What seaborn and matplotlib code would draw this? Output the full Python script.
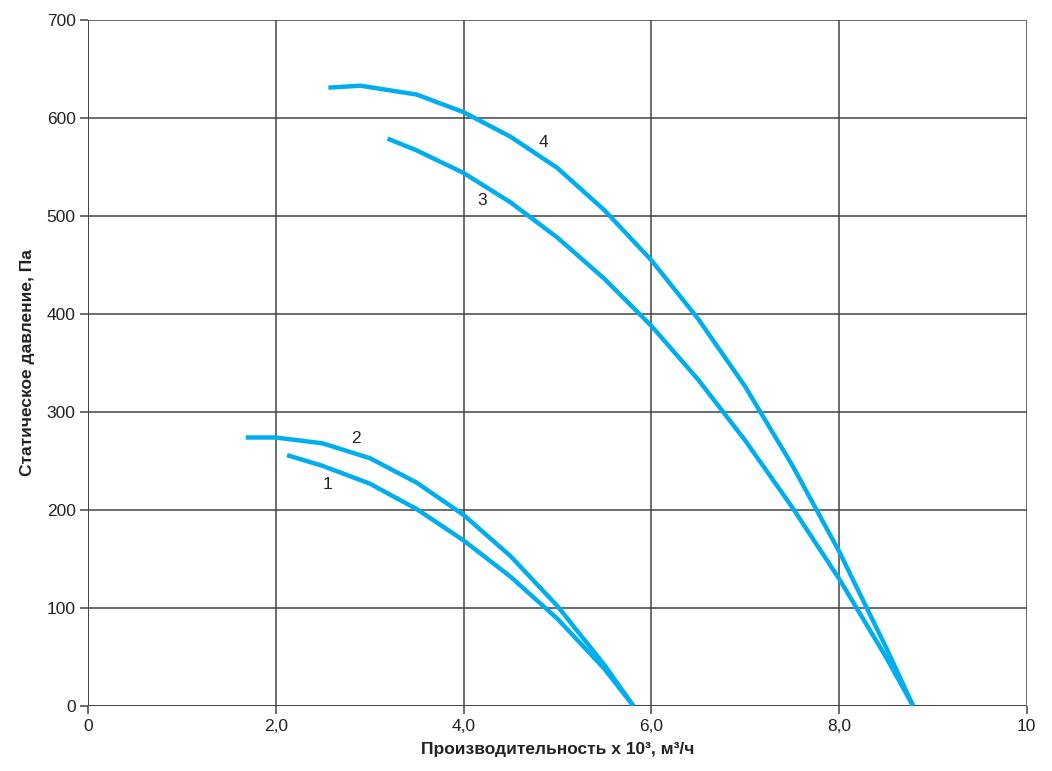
import pandas as pd
import seaborn as sns
import matplotlib.pyplot as plt

# fan curves (x in 10^3 m3/h, y in Pa)
x1 = [2.12, 2.5, 3.0, 3.5, 4.0, 4.5, 5.0, 5.5, 5.81]
y1 = [256, 245, 227, 201, 169, 132, 89, 38, 0]

x2 = [1.68, 2.0, 2.5, 3.0, 3.5, 4.0, 4.5, 5.0, 5.5, 5.81]
y2 = [274, 274, 268, 253, 228, 195, 153, 102, 42, 0]

x3 = [3.19, 3.5, 4.0, 4.5, 5.0, 5.5, 6.0, 6.5, 7.0, 7.5, 8.0, 8.5, 8.79]
y3 = [579, 567, 544, 514, 478, 436, 388, 333, 271, 203, 130, 50, 0]

x4 = [2.56, 2.9, 3.5, 4.0, 4.5, 5.0, 5.5, 6.0, 6.5, 7.0, 7.5, 8.0, 8.5, 8.79]
y4 = [631, 633, 624, 606, 581, 549, 506, 455, 395, 326, 246, 158, 60, 0]

curve_names = ['1', '2', '3', '4']
label_pos = [(2.55, 226), (2.85, 273), (4.2, 516), (4.85, 575)]

x_ticks = [0, 2, 4, 6, 8, 10]
x_tick_labels = ['0', '2,0', '4,0', '6,0', '8,0', '10']
y_ticks = [0, 100, 200, 300, 400, 500, 600, 700]

frames = []
for name, xs, ys in zip(curve_names, [x1, x2, x3, x4], [y1, y2, y3, y4]):
    frames.append(pd.DataFrame({'q': xs, 'p': ys, 'curve': name}))
df = pd.concat(frames, ignore_index=True)

sns.set_style('white')
plt.rcParams['font.family'] = ['Liberation Sans', 'DejaVu Sans']

fig = plt.figure(figsize=(10.52, 7.71), dpi=100)
ax = fig.add_axes([0.0837, 0.0843, 0.8923, 0.8897])

blue = '#00AEEF'
sns.lineplot(data=df, x='q', y='p', hue='curve', palette=[blue] * 4,
             sort=False, estimator=None, legend=False, linewidth=3.2, ax=ax)
for line in ax.get_lines():
    line.set_solid_joinstyle('round')
    line.set_solid_capstyle('butt')

for name, (tx, ty) in zip(curve_names, label_pos):
    ax.text(tx, ty, name, fontsize=12.5, color='#222222', ha='center', va='center')

ax.set_xlim(0, 10)
ax.set_ylim(0, 700)
ax.set_xticks(x_ticks)
ax.set_xticklabels(x_tick_labels)
ax.set_yticks(y_ticks)
ax.grid(True, color='#444444', linewidth=1.1)
ax.set_axisbelow(True)
for side in ['left', 'bottom', 'top', 'right']:
    ax.spines[side].set_visible(False)
ax.tick_params(axis='both', direction='out', length=6, width=1.1, color='#444444',
               labelsize=12.5, labelcolor='#222222', pad=3,
               left=True, bottom=True)
# the grid lines at 0 act as axes
ax.axhline(0, color='#444444', linewidth=1.4, zorder=0.5)
ax.axvline(0, color='#444444', linewidth=1.4, zorder=0.5)

ax.set_xlabel('Производительность x 10³, м³/ч', fontsize=12.5, fontweight='bold',
              color='#222222', labelpad=6)
ax.set_ylabel('Статическое давление, Па', fontsize=12.5, fontweight='bold',
              color='#222222', labelpad=8)

fig.savefig('out.png', dpi=100)
